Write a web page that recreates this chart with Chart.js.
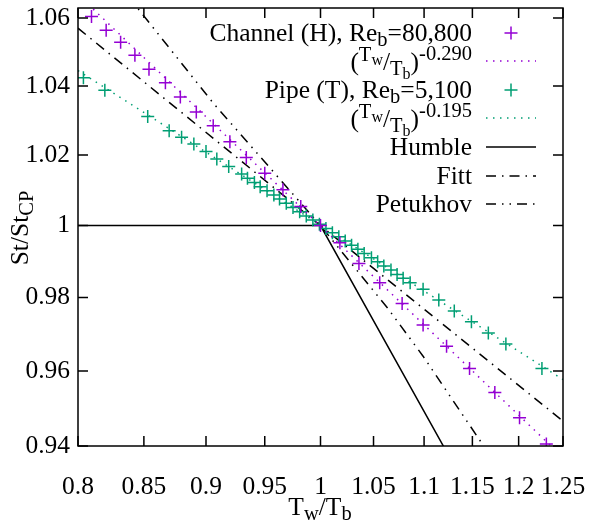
<!DOCTYPE html>
<html>
<head>
<meta charset="utf-8">
<script src="https://cdn.jsdelivr.net/npm/chart.js@4.4.0/dist/chart.umd.min.js"></script>
<style>
  html, body { margin: 0; padding: 0; background: #fff; }
  #wrap { width: 590px; height: 524px; }
</style>
</head>
<body>
<div id="wrap"><canvas id="chart" width="590" height="524"></canvas></div>
<script>
  // axis ticks
  const xTicks = [0.8, 0.85, 0.9, 0.95, 1, 1.05, 1.1, 1.15, 1.2, 1.25];
  const yTicks = [0.94, 0.96, 0.98, 1, 1.02, 1.04, 1.06];

  // Channel (H), Re_b = 80,800
  const channelX = [0.810, 0.821, 0.832, 0.843, 0.854, 0.867, 0.879, 0.892, 0.906, 0.920, 0.934, 0.950, 0.966,
    0.982, 1.000, 1.018, 1.036, 1.056, 1.078, 1.099, 1.123, 1.147, 1.174, 1.201, 1.231];
  const channelY = [1.0605, 1.0564, 1.0528, 1.0490, 1.0449, 1.0409, 1.0368, 1.0324, 1.0284, 1.0238, 1.0193, 1.0148, 1.0101,
    1.0054, 1.0000, 0.9952, 0.9894, 0.9841, 0.9784, 0.9725, 0.9667, 0.9607, 0.9542, 0.9475, 0.9405];

  // Pipe (T), Re_b = 5,100
  const pipeX = [0.804, 0.820, 0.853, 0.870, 0.880, 0.890, 0.900, 0.909, 0.919, 0.930, 0.935, 0.941, 0.946, 0.952,
    0.958, 0.963, 0.969, 0.975, 0.981, 0.987, 0.993, 0.999, 1.005, 1.011, 1.017, 1.023, 1.029, 1.035, 1.041, 1.048,
    1.054, 1.060, 1.067, 1.073, 1.079, 1.086, 1.099, 1.115, 1.131, 1.149, 1.167, 1.186, 1.226];
  const pipeY = [1.0424, 1.0387, 1.0311, 1.0270, 1.0251, 1.0232, 1.0210, 1.0189, 1.0167, 1.0146, 1.0134, 1.0122, 1.0110, 1.0098,
    1.0086, 1.0075, 1.0063, 1.0051, 1.0039, 1.0027, 1.0016, 1.0004, 0.9992, 0.9980, 0.9969, 0.9957, 0.9945, 0.9934, 0.9922, 0.9910,
    0.9899, 0.9887, 0.9876, 0.9864, 0.9853, 0.9841, 0.9823, 0.9793, 0.9763, 0.9734, 0.9703, 0.9673, 0.9607];

  // fitted power laws and correlations
  const fitChannelX = [0.8, 1.25];
  const fitChannelY = [1.067, 0.937];
  const fitPipeX = [0.8, 1.25];
  const fitPipeY = [1.0445, 0.9577];
  const humbleX = [0.8, 1.0, 1.25];
  const humbleY = [1.0, 1.0, 0.885];
  const fittX = [0.8, 1.0, 1.25];
  const fittY = [1.057, 1.0, 0.9466];
  const petukhovX = [0.8, 0.845, 0.906, 1.0, 1.064, 1.099, 1.162, 1.2];
  const petukhovY = [1.081, 1.063, 1.035, 1.0, 0.977, 0.964, 0.940, 0.926];

  const PURPLE = '#9400d3';
  const GREEN = '#009e73';
  const FONT = 'Liberation Serif';
  const FS = 25.5, SS = 20.5;

  function pts(xs, ys) {
    return xs.map((x, i) => ({ x: x, y: ys[i] }));
  }

  function lineSet(label, xs, ys, color, dash) {
    return {
      label: label, data: pts(xs, ys), borderColor: color, borderWidth: 1.5,
      borderDash: dash, pointRadius: 0, showLine: true, fill: false, tension: 0
    };
  }

  function pointSet(label, xs, ys, color) {
    return {
      label: label, data: pts(xs, ys), showLine: false, pointStyle: 'cross',
      pointRadius: 6.5, pointBorderWidth: 1.5, borderColor: color, backgroundColor: color
    };
  }

  // draw a string made of pieces with own size / vertical shift
  function richText(ctx, parts, x, y, align) {
    let w = 0;
    parts.forEach(p => { ctx.font = p.s + 'px "' + FONT + '"'; w += ctx.measureText(p.t).width; });
    let cx = align === 'right' ? x - w : (align === 'center' ? x - w / 2 : x);
    ctx.textAlign = 'left';
    ctx.textBaseline = 'alphabetic';
    parts.forEach(p => {
      ctx.font = p.s + 'px "' + FONT + '"';
      ctx.fillText(p.t, cx, y + (p.dy || 0));
      cx += ctx.measureText(p.t).width;
    });
  }

  function fixPad(s) {
    s.paddingTop = 0; s.paddingBottom = 0; s.paddingLeft = 0; s.paddingRight = 0;
  }

  function powerLabel(exp) {
    return [{ t: '(', s: FS, dy: 7 }, { t: 'T', s: SS, dy: -2 }, { t: 'w', s: 16, dy: 2 }, { t: '/', s: FS, dy: 7 },
      { t: 'T', s: SS, dy: 12 }, { t: 'b', s: 16, dy: 16 }, { t: ')', s: FS, dy: 7 }, { t: exp, s: SS, dy: -3 }];
  }

  const decorPlugin = {
    id: 'decor',
    afterDatasetsDraw(chart) {
      const ctx = chart.ctx;
      const a = chart.chartArea;
      const xs = chart.scales.x, ys = chart.scales.y;
      ctx.save();
      ctx.strokeStyle = '#000';
      ctx.lineWidth = 1.5;
      ctx.setLineDash([]);
      ctx.strokeRect(a.left, a.top, a.right - a.left, a.bottom - a.top);
      // inward ticks on all four sides
      ctx.beginPath();
      xTicks.forEach(v => {
        const px = xs.getPixelForValue(v);
        ctx.moveTo(px, a.bottom); ctx.lineTo(px, a.bottom - 10);
        ctx.moveTo(px, a.top); ctx.lineTo(px, a.top + 10);
      });
      yTicks.forEach(v => {
        const py = ys.getPixelForValue(v);
        ctx.moveTo(a.left, py); ctx.lineTo(a.left + 10, py);
        ctx.moveTo(a.right, py); ctx.lineTo(a.right - 10, py);
      });
      ctx.stroke();

      // legend
      ctx.fillStyle = '#000';
      const tx = 472, sx0 = 486, sx1 = 536, sc = 511;
      const rows = [33, 61, 90, 118, 147, 176, 204];
      richText(ctx, [{ t: 'Channel (H), Re', s: FS }, { t: 'b', s: SS, dy: 5 }, { t: '=80,800', s: FS }], tx, rows[0] + 8, 'right');
      richText(ctx, powerLabel('-0.290'), tx, rows[1] + 2, 'right');
      richText(ctx, [{ t: 'Pipe (T), Re', s: FS }, { t: 'b', s: SS, dy: 5 }, { t: '=5,100', s: FS }], tx, rows[2] + 8, 'right');
      richText(ctx, powerLabel('-0.195'), tx, rows[3] + 2, 'right');
      richText(ctx, [{ t: 'Humble', s: FS }], tx, rows[4] + 8, 'right');
      richText(ctx, [{ t: 'Fitt', s: FS }], tx, rows[5] + 8, 'right');
      richText(ctx, [{ t: 'Petukhov', s: FS }], tx, rows[6] + 8, 'right');

      // legend samples
      ctx.lineWidth = 1.5;
      ctx.strokeStyle = PURPLE;
      ctx.beginPath();
      ctx.moveTo(sc - 6.5, rows[0]); ctx.lineTo(sc + 6.5, rows[0]);
      ctx.moveTo(sc, rows[0] - 6.5); ctx.lineTo(sc, rows[0] + 6.5);
      ctx.stroke();
      ctx.setLineDash([1.5, 5.5]);
      ctx.beginPath(); ctx.moveTo(sx0, rows[1]); ctx.lineTo(sx1, rows[1]); ctx.stroke();
      ctx.setLineDash([]);
      ctx.strokeStyle = GREEN;
      ctx.beginPath();
      ctx.moveTo(sc - 6.5, rows[2]); ctx.lineTo(sc + 6.5, rows[2]);
      ctx.moveTo(sc, rows[2] - 6.5); ctx.lineTo(sc, rows[2] + 6.5);
      ctx.stroke();
      ctx.setLineDash([1.5, 5.5]);
      ctx.beginPath(); ctx.moveTo(sx0, rows[3]); ctx.lineTo(sx1, rows[3]); ctx.stroke();
      ctx.strokeStyle = '#000';
      ctx.setLineDash([]);
      ctx.beginPath(); ctx.moveTo(sx0, rows[4]); ctx.lineTo(sx1, rows[4]); ctx.stroke();
      ctx.setLineDash([10, 6, 1.5, 6]);
      ctx.beginPath(); ctx.moveTo(sx0, rows[5]); ctx.lineTo(sx1, rows[5]); ctx.stroke();
      ctx.setLineDash([10, 6, 1.5, 6, 1.5, 6]);
      ctx.beginPath(); ctx.moveTo(sx0, rows[6]); ctx.lineTo(sx1, rows[6]); ctx.stroke();
      ctx.setLineDash([]);

      // axis titles
      richText(ctx, [{ t: 'T', s: FS }, { t: 'w', s: SS, dy: 5 }, { t: '/T', s: FS }, { t: 'b', s: SS, dy: 5 }], 320, 515, 'center');
      ctx.translate(28, 228);
      ctx.rotate(-Math.PI / 2);
      richText(ctx, [{ t: 'St/St', s: FS }, { t: 'CP', s: SS, dy: 5 }], 0, 0, 'center');
      ctx.restore();
    }
  };

  const datasets = [
    pointSet('Channel (H), Re_b=80,800', channelX, channelY, PURPLE),
    lineSet('(Tw/Tb)^-0.290', fitChannelX, fitChannelY, PURPLE, [1.5, 5.5]),
    pointSet('Pipe (T), Re_b=5,100', pipeX, pipeY, GREEN),
    lineSet('(Tw/Tb)^-0.195', fitPipeX, fitPipeY, GREEN, [1.5, 5.5]),
    lineSet('Humble', humbleX, humbleY, '#000', []),
    lineSet('Fitt', fittX, fittY, '#000', [10, 6, 1.5, 6]),
    lineSet('Petukhov', petukhovX, petukhovY, '#000', [10, 6, 1.5, 6, 1.5, 6])
  ];

  new Chart(document.getElementById('chart'), {
    type: 'scatter',
    data: { datasets: datasets },
    options: {
      responsive: false,
      animation: false,
      devicePixelRatio: 1,
      layout: { padding: { top: 7, right: 27, left: 0, bottom: 0 } },
      plugins: { legend: { display: false }, tooltip: { enabled: false } },
      scales: {
        x: {
          type: 'logarithmic', min: 0.8, max: 1.25,
          afterBuildTicks: s => { s.ticks = xTicks.map(v => ({ value: v })); },
          afterFit: s => { s.height = 78; fixPad(s); },
          grid: { display: false, drawTicks: false },
          border: { display: false },
          ticks: { color: '#000', padding: 26, font: { family: FONT, size: FS }, maxRotation: 0, autoSkip: false,
            callback: v => String(v) }
        },
        y: {
          type: 'logarithmic', min: 0.94, max: 1.063,
          afterBuildTicks: s => { s.ticks = yTicks.map(v => ({ value: v })); },
          afterFit: s => { s.width = 78; fixPad(s); },
          grid: { display: false, drawTicks: false },
          border: { display: false },
          ticks: { color: '#000', padding: 8, font: { family: FONT, size: FS }, autoSkip: false,
            callback: v => String(v) }
        }
      }
    },
    plugins: [decorPlugin]
  });
</script>
</body>
</html>
